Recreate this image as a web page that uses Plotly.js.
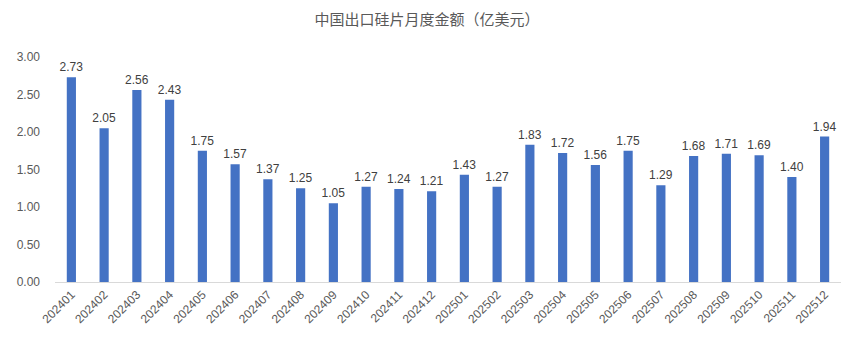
<!DOCTYPE html>
<html>
<head>
<meta charset="utf-8">
<script src="https://cdn.plot.ly/plotly-3.0.1.min.js"></script>
<style>html,body{margin:0;padding:0;background:#fff;}#chart{width:854px;height:354px;}</style>
</head>
<body>
<div id="chart"></div>
<script>
const months = ["202401","202402","202403","202404","202405","202406","202407","202408","202409","202410","202411","202412",
                "202501","202502","202503","202504","202505","202506","202507","202508","202509","202510","202511","202512"];
const values = [2.73,2.05,2.56,2.43,1.75,1.57,1.37,1.25,1.05,1.27,1.24,1.21,
                1.43,1.27,1.83,1.72,1.56,1.75,1.29,1.68,1.71,1.69,1.40,1.94];
const yTicks = [0,0.5,1,1.5,2,2.5,3];
const titleText = "中国出口硅片月度金额（亿美元）";

const trace = {
  type: "bar",
  x: months,
  y: values,
  marker: {color: "#4472C4"},
  text: values.map(v => v.toFixed(2)),
  textposition: "outside",
  constraintext: "none",
  cliponaxis: false,
  textfont: {family: "Liberation Sans, Arial, sans-serif", size: 12, color: "#404040"},
  hoverinfo: "none"
};

const layout = {
  width: 854, height: 354,
  margin: {l: 55, r: 13, t: 57, b: 72},
  paper_bgcolor: "#fff", plot_bgcolor: "#fff",
  bargap: 0.72,
  showlegend: false,
  uniformtext: {mode: false},
  title: {text: titleText, x: 0.5, xanchor: "center", y: 0.945, yanchor: "middle",
          font: {family: "Noto Sans CJK SC, sans-serif", size: 15, color: "#595959"}},
  xaxis: {
    type: "category",
    tickangle: -45,
    tickfont: {family: "Liberation Sans, Arial, sans-serif", size: 12, color: "#595959"},
    showline: true, linecolor: "#d9d9d9", linewidth: 1,
    ticks: "", showgrid: false, zeroline: false
  },
  yaxis: {
    range: [0, 3],
    tickvals: yTicks,
    ticktext: yTicks.map(v => v.toFixed(2)),
    tickfont: {family: "Liberation Sans, Arial, sans-serif", size: 12, color: "#595959"},
    showgrid: false, zeroline: false, showline: false, ticks: "",
    ticklabelstandoff: 14
  }
};

Plotly.newPlot("chart", [trace], layout, {displayModeBar: false, staticPlot: true});
</script>
</body>
</html>
